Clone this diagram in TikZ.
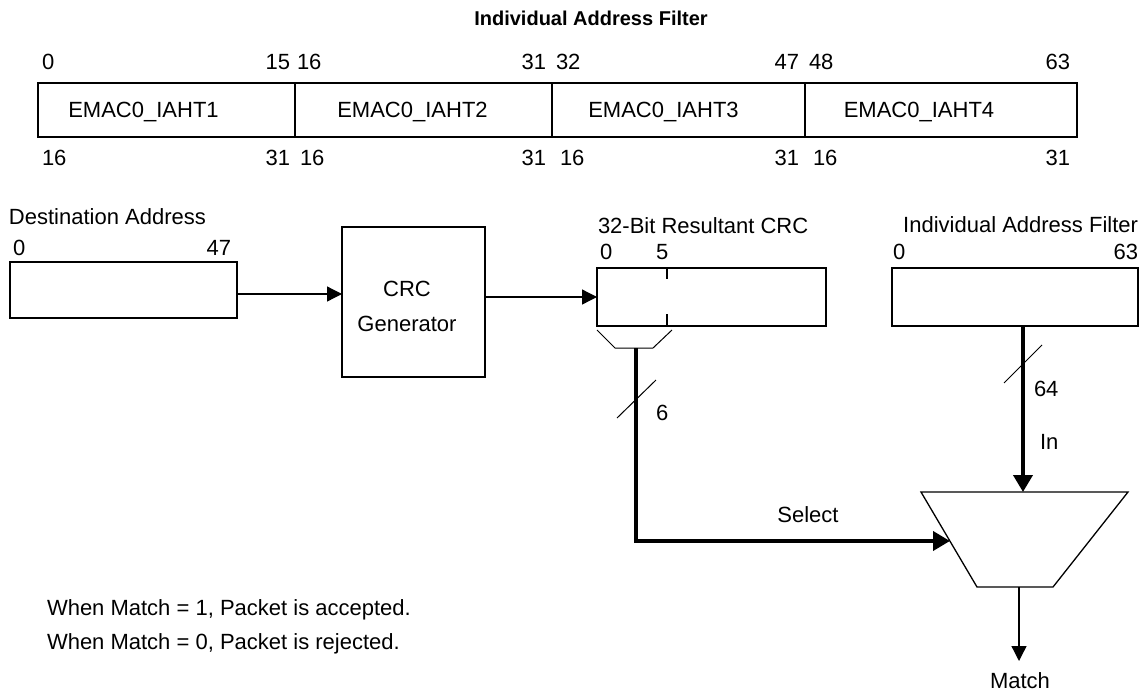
\documentclass[tikz,border=0pt]{standalone}
\usepackage{fontspec}
\setmainfont{Liberation Sans}
\usetikzlibrary{arrows.meta,calc}
\begin{document}
\begin{tikzpicture}[x=1pt,y=-1pt,
  thinln/.style={line width=1.3pt},
  thickln/.style={line width=3.8pt},
  slashln/.style={line width=1pt},
  regbox/.style={draw, line width=1.3pt, inner sep=0pt, outer sep=0pt, anchor=north west},
  lbl/.style={inner sep=0pt, outer sep=0pt, text height=15.8pt, text depth=0pt, font=\fontsize{22}{26}\selectfont},
  thinarr/.style={-{Triangle[length=15pt,width=15pt]}},
  thickarr/.style={-{Triangle[length=17pt,width=19pt]}},
]
\useasboundingbox (0,0) rectangle (1144,694);

% title
\node[lbl, font=\bfseries\fontsize{20}{24}\selectfont] (title) at (591,18) {Individual Address Filter};

% top register
\node[regbox, minimum width=257pt, minimum height=54pt] (c1) at (38,83) {};
\node[regbox, minimum width=257pt, minimum height=54pt] (c2) at (295,83) {};
\node[regbox, minimum width=253pt, minimum height=54pt] (c3) at (552,83) {};
\node[regbox, minimum width=272pt, minimum height=54pt] (c4) at (805,83) {};
\node[lbl] (n1) at ($(c1.center)+(-23,0)$) {EMAC0\_IAHT1};
\node[lbl] (n2) at ($(c2.center)+(-11,0)$) {EMAC0\_IAHT2};
\node[lbl] (n3) at ($(c3.center)+(-15,0)$) {EMAC0\_IAHT3};
\node[lbl] (n4) at ($(c4.center)+(-22,0)$) {EMAC0\_IAHT4};

% top bit labels
\node[lbl, anchor=west] (ta) at (42,62) {0};
\node[lbl, anchor=east] (tb) at (290,62) {15};
\node[lbl, anchor=west] (tc) at (297,62) {16};
\node[lbl, anchor=east] (td) at (546,62) {31};
\node[lbl, anchor=west] (te) at (556,62) {32};
\node[lbl, anchor=east] (tf) at (799,62) {47};
\node[lbl, anchor=west] (tg) at (809,62) {48};
\node[lbl, anchor=east] (th) at (1070,62) {63};
% bottom bit labels
\node[lbl, anchor=west] (ba) at (42,158) {16};
\node[lbl, anchor=east] (bb) at (290,158) {31};
\node[lbl, anchor=west] (bc) at (300,158) {16};
\node[lbl, anchor=east] (bd) at (546,158) {31};
\node[lbl, anchor=west] (be) at (560,158) {16};
\node[lbl, anchor=east] (bf) at (799,158) {31};
\node[lbl, anchor=west] (bg) at (813,158) {16};
\node[lbl, anchor=east] (bh) at (1070,158) {31};

% destination address
\node[lbl, anchor=west] (dlbl) at (9,217) {Destination Address};
\node[lbl, anchor=west] (d0) at (13,248) {0};
\node[lbl, anchor=east] (d47) at (231,248) {47};
\node[regbox, minimum width=227pt, minimum height=56pt] (dest) at (10,262) {};

% CRC generator
\node[regbox, minimum width=143pt, minimum height=150pt] (crcgen) at (342,227) {};
\node[lbl] (crct1) at (407,289) {CRC};
\node[lbl] (crct2) at (407,324) {Generator};

% 32-bit resultant CRC
\node[lbl, anchor=west] (rlbl) at (598,226) {32-Bit Resultant CRC};
\node[lbl, anchor=west] (r0) at (600,252) {0};
\node[lbl, anchor=west] (r5) at (656,252) {5};
\node[regbox, minimum width=229pt, minimum height=58pt] (crcreg) at (597,268) {};
\draw[thinln] ($(crcreg.north west)+(70,0)$) -- ($(crcreg.north west)+(70,11)$);
\draw[thinln] ($(crcreg.south west)+(70,0)$) -- ($(crcreg.south west)+(70,-12)$);

% select bracket
\coordinate (bk1) at (597,330);
\coordinate (bk2) at (615,348);
\coordinate (bk3) at (653,348);
\coordinate (bk4) at (672,330);
\draw[line width=1pt] (bk1) -- (bk2) -- (bk3) -- (bk4);
\coordinate (selout) at (636,348);

% individual address filter
\node[lbl, anchor=east] (ilbl) at (1138,225) {Individual Address Filter};
\node[lbl, anchor=west] (i0) at (893,252) {0};
\node[lbl, anchor=east] (i63) at (1138,252) {63};
\node[regbox, minimum width=246pt, minimum height=58pt] (iaf) at (892,268) {};
\coordinate (iafout) at ($(iaf.south west)+(131,0)$);

% multiplexer
\coordinate (m1) at (921,492);
\coordinate (m2) at (1128,492);
\coordinate (m3) at (1053,587);
\coordinate (m4) at (977,587);
\draw[thinln] (m1) -- (m2) -- (m3) -- (m4) -- cycle;
\coordinate (muxin) at (1023,492);
\coordinate (muxsel) at (950,541);
\coordinate (muxout) at (1019,587);
\coordinate (matchend) at (1019,661);

% connectors
\draw[thinln, thinarr] ($(dest.east)+(0,4)$) -- ($(dest.east -| crcgen.west)+(0,4)$);
\draw[thinln, thinarr] (crcreg.west -| crcgen.east) -- (crcreg.west);
\draw[thickln, thickarr] (selout) |- (muxsel);
\draw[thickln, thickarr] (iafout) -- (muxin);
\draw[thinln, thinarr] (muxout) -- (matchend);

% bus width slashes
\draw[slashln] (617,418) -- (656,380);
\draw[slashln] (1004,383) -- (1042,345);
\node[lbl, anchor=west] (w6) at (656,413) {6};
\node[lbl, anchor=west] (w64) at (1034,389) {64};
\node[lbl, anchor=west] (win) at (1040,442) {In};
\node[lbl] (sel) at (808,515) {Select};
\node[lbl] (match) at (1020,681) {Match};

% notes
\node[lbl, anchor=west] (note1) at (47,608) {When Match = 1, Packet is accepted.};
\node[lbl, anchor=west] (note2) at (47,642) {When Match = 0, Packet is rejected.};
\end{tikzpicture}
\end{document}
